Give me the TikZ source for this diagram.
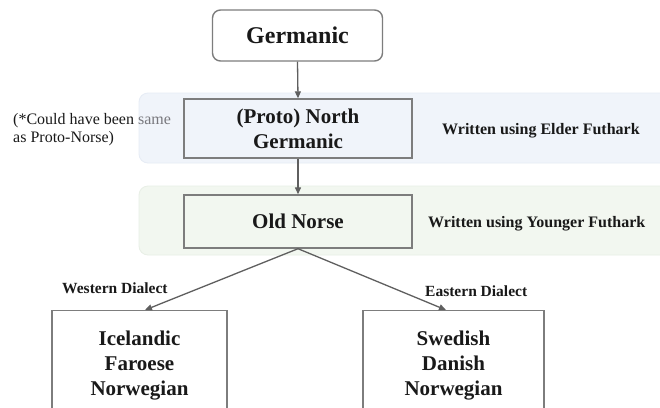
\documentclass[tikz,border=0pt]{standalone}
\usepackage{fontspec}
\setmainfont{Liberation Serif}
\usetikzlibrary{arrows.meta}
\definecolor{bandblue}{RGB}{240,244,250}
\definecolor{bandblueedge}{RGB}{230,236,245}
\definecolor{bandgreen}{RGB}{242,247,240}
\definecolor{bandgreenedge}{RGB}{232,239,230}
\definecolor{boxedge}{RGB}{125,125,125}
\definecolor{linegray}{RGB}{95,95,95}
\definecolor{txt}{RGB}{25,25,25}
\definecolor{fadetxt}{RGB}{120,120,125}
\tikzset{
  band/.style={rounded corners=9pt, line width=0.8pt},
  langbox/.style={draw=boxedge, line width=1.4pt, align=center, inner sep=0pt,
    text=txt, font=\bfseries\fontsize{21}{25}\selectfont},
  topbox/.style={langbox, rounded corners=8pt, font=\bfseries\fontsize{24}{28}\selectfont},
  note/.style={text=txt, inner sep=0pt, font=\bfseries\fontsize{16}{19}\selectfont},
  conn/.style={draw=linegray, line width=1.3pt, -{Triangle[length=7pt,width=6pt]}},
}
\begin{document}
\begin{tikzpicture}[x=1pt,y=-1pt]
\clip (0,0) rectangle (660,407);
\fill[white] (0,0) rectangle (660,407);
% bands
\draw[band, fill=bandblue, draw=bandblueedge] (139,93) rectangle (672,163);
\draw[band, fill=bandgreen, draw=bandgreenedge] (139,186) rectangle (672,255);
% left remark (its last word lies on the blue band)
\node[anchor=west, align=left, inner sep=0pt, text=txt, font=\fontsize{16}{18}\selectfont]
  (remark) at (13,129.5) {(*Could have been \textcolor{fadetxt}{same}\\as Proto-Norse)};
% boxes
\node[topbox, fill=white, minimum width=170pt, minimum height=51pt] (germ) at (297.5,35.5) {Germanic};
\node[langbox, fill=bandblue, minimum width=228pt, minimum height=59pt] (pnorth) at (298,128.5) {(Proto) North\\Germanic};
\node[langbox, fill=bandgreen, minimum width=228pt, minimum height=53pt] (onorse) at (298,221.5) {Old Norse};
\node[langbox, fill=white, minimum width=175pt, minimum height=110pt, anchor=north] (west) at (139.5,310) {Icelandic\\Faroese\\Norwegian};
\node[langbox, fill=white, minimum width=181pt, minimum height=110pt, anchor=north] (east) at (453.5,310) {Swedish\\Danish\\Norwegian};
% side notes
\node[note, anchor=base west] (elder) at (442,134) {Written using Elder Futhark};
\node[note, anchor=base west] (younger) at (428,227) {Written using Younger Futhark};
\node[note, anchor=base west, font=\bfseries\fontsize{15.5}{18}\selectfont] (wlab) at (62,293) {Western Dialect};
\node[note, anchor=base west, font=\bfseries\fontsize{15.5}{18}\selectfont] (elab) at (425,296.5) {Eastern Dialect};
% connectors
\draw[conn] (germ.south) -- (pnorth.north);
\draw[conn] (pnorth.south) -- (onorse.north);
\draw[conn] (onorse.south) -- ([xshift=5.5pt]west.north);
\draw[conn] (onorse.south) -- ([xshift=-7.5pt]east.north);
\end{tikzpicture}
\end{document}
